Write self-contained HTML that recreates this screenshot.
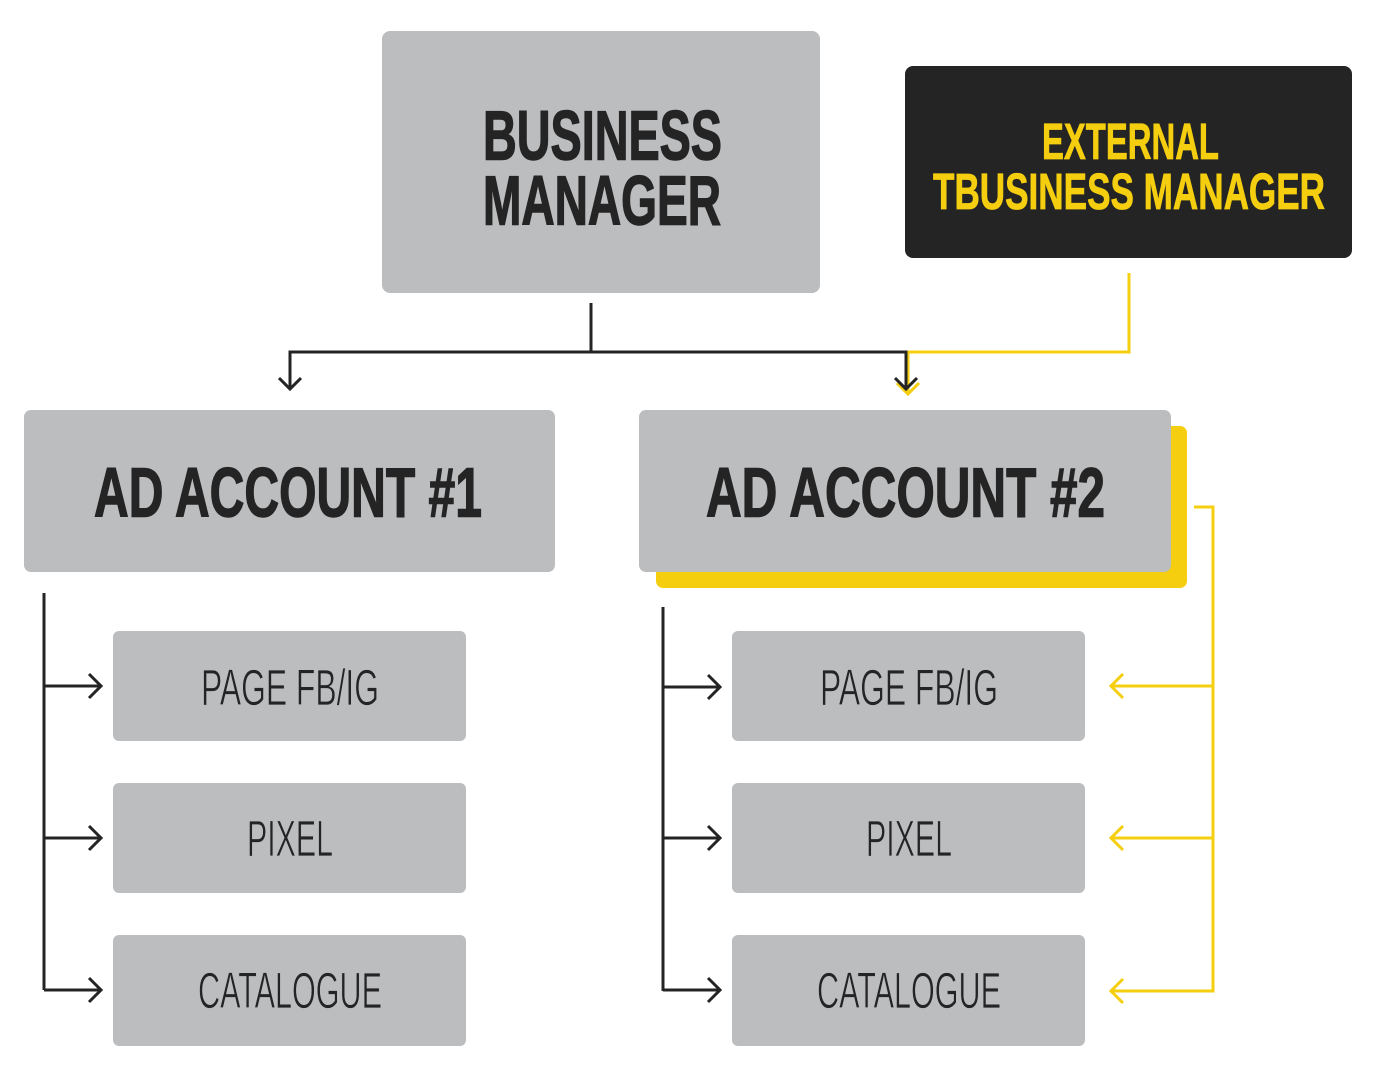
<!DOCTYPE html>
<html>
<head>
<meta charset="utf-8">
<style>
html,body{margin:0;padding:0;background:#fff;}
svg{display:block;}
.hb{font-family:"Liberation Sans Narrow","Liberation Sans",sans-serif;font-weight:bold;}
.lt{font-family:"Liberation Sans Narrow","Liberation Sans",sans-serif;font-weight:normal;}
</style>
</head>
<body>
<svg width="1385" height="1080" viewBox="0 0 1385 1080" xmlns="http://www.w3.org/2000/svg">
  <rect x="0" y="0" width="1385" height="1080" fill="#ffffff"/>

  <!-- Business Manager -->
  <rect x="382" y="31" width="438" height="262" rx="8" fill="#bcbdbf"/>
  <text class="hb" x="483" y="159.5" font-size="70" fill="#242424" stroke="#242424" stroke-width="1.4" textLength="239" lengthAdjust="spacingAndGlyphs">BUSINESS</text>
  <text class="hb" x="483" y="224.5" font-size="70" fill="#242424" stroke="#242424" stroke-width="1.4" textLength="238" lengthAdjust="spacingAndGlyphs">MANAGER</text>

  <!-- External -->
  <rect x="905" y="66" width="447" height="192" rx="8" fill="#242424"/>
  <text class="hb" x="1042" y="159" font-size="51" fill="#f5cf0f" stroke="#f5cf0f" stroke-width="0.8" textLength="177" lengthAdjust="spacingAndGlyphs">EXTERNAL</text>
  <text class="hb" x="933" y="209" font-size="51" fill="#f5cf0f" stroke="#f5cf0f" stroke-width="0.8" textLength="392" lengthAdjust="spacingAndGlyphs">TBUSINESS MANAGER</text>

  <!-- yellow connector from external -->
  <polyline points="1129,273 1129,352 908,352 908,392" fill="none" stroke="#f5cf0f" stroke-width="3"/>
  <polyline points="897,383 908,394 919,383" fill="none" stroke="#f5cf0f" stroke-width="3"/>

  <!-- black connectors from BM -->
  <polyline points="591,303 591,352" fill="none" stroke="#242424" stroke-width="3"/>
  <polyline points="290,389 290,352 906,352 906,389" fill="none" stroke="#242424" stroke-width="3"/>
  <polyline points="279,378 290,389 301,378" fill="none" stroke="#242424" stroke-width="3"/>
  <polyline points="895,378 906,389 917,378" fill="none" stroke="#242424" stroke-width="3"/>

  <!-- Ad account 1 -->
  <rect x="24" y="410" width="531" height="162" rx="7" fill="#bcbdbf"/>
  <text class="hb" x="94" y="516.5" font-size="70" fill="#242424" stroke="#242424" stroke-width="1.4" textLength="388" lengthAdjust="spacingAndGlyphs">AD ACCOUNT #1</text>

  <!-- Ad account 2 -->
  <rect x="656" y="426" width="531" height="162" rx="7" fill="#f5cf0f"/>
  <rect x="639" y="410" width="532" height="162" rx="7" fill="#bcbdbf"/>
  <text class="hb" x="706" y="516.5" font-size="70" fill="#242424" stroke="#242424" stroke-width="1.4" textLength="399" lengthAdjust="spacingAndGlyphs">AD ACCOUNT #2</text>

  <!-- left column connectors -->
  <polyline points="44,593 44,990" fill="none" stroke="#242424" stroke-width="3"/>
  <g fill="none" stroke="#242424" stroke-width="3">
    <line x1="44" y1="686" x2="101" y2="686"/>
    <polyline points="89,674 101,686 89,698"/>
    <line x1="44" y1="838" x2="101" y2="838"/>
    <polyline points="89,826 101,838 89,850"/>
    <line x1="44" y1="990" x2="101" y2="990"/>
    <polyline points="89,978 101,990 89,1002"/>
  </g>

  <!-- right column connectors -->
  <g fill="none" stroke="#242424" stroke-width="3">
    <line x1="663" y1="607" x2="663" y2="991"/>
    <line x1="663" y1="687" x2="720" y2="687"/>
    <polyline points="708,675 720,687 708,699"/>
    <line x1="663" y1="838" x2="720" y2="838"/>
    <polyline points="708,826 720,838 708,850"/>
    <line x1="663" y1="990" x2="720" y2="990"/>
    <polyline points="708,978 720,990 708,1002"/>
  </g>

  <!-- yellow right connectors -->
  <g fill="none" stroke="#f5cf0f" stroke-width="3">
    <polyline points="1194,507 1213,507 1213,991 1110,991"/>
    <line x1="1213" y1="686" x2="1110" y2="686"/>
    <line x1="1213" y1="838" x2="1110" y2="838"/>
    <polyline points="1123,674 1111,686 1123,698"/>
    <polyline points="1123,826 1111,838 1123,850"/>
    <polyline points="1123,979 1111,991 1123,1003"/>
  </g>

  <!-- left small boxes -->
  <rect x="113" y="631" width="353" height="110" rx="6" fill="#bcbdbf"/>
  <rect x="113" y="783" width="353" height="110" rx="6" fill="#bcbdbf"/>
  <rect x="113" y="935" width="353" height="111" rx="6" fill="#bcbdbf"/>
  <g class="lt" font-size="51" fill="#242424" stroke="#bcbdbf" stroke-width="0.8">
    <text x="201" y="705" textLength="178" lengthAdjust="spacingAndGlyphs">PAGE FB/IG</text>
    <text x="247" y="856" textLength="86" lengthAdjust="spacingAndGlyphs">PIXEL</text>
    <text x="198" y="1008" textLength="184" lengthAdjust="spacingAndGlyphs">CATALOGUE</text>
  </g>

  <!-- right small boxes -->
  <rect x="732" y="631" width="353" height="110" rx="6" fill="#bcbdbf"/>
  <rect x="732" y="783" width="353" height="110" rx="6" fill="#bcbdbf"/>
  <rect x="732" y="935" width="353" height="111" rx="6" fill="#bcbdbf"/>
  <g class="lt" font-size="51" fill="#242424" stroke="#bcbdbf" stroke-width="0.8">
    <text x="820" y="705" textLength="178" lengthAdjust="spacingAndGlyphs">PAGE FB/IG</text>
    <text x="866" y="856" textLength="86" lengthAdjust="spacingAndGlyphs">PIXEL</text>
    <text x="817" y="1008" textLength="184" lengthAdjust="spacingAndGlyphs">CATALOGUE</text>
  </g>
</svg>
</body>
</html>
